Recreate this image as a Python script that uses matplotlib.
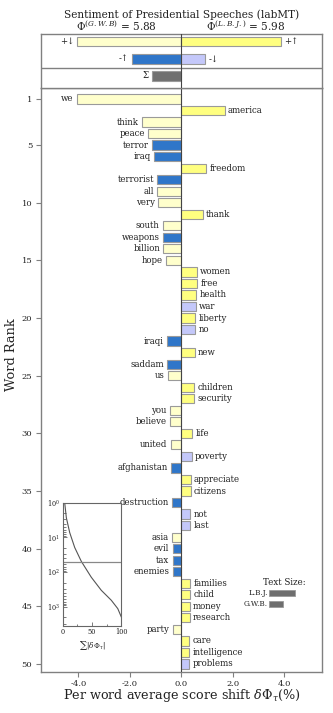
import matplotlib
matplotlib.use('Agg')
import matplotlib.pyplot as plt
from matplotlib.ticker import FixedLocator, NullFormatter

plt.rcParams['font.family'] = ['DejaVu Serif', 'DejaVu Sans']
plt.rcParams['mathtext.fontset'] = 'dejavuserif'

# ---------------- data ----------------
words = ['we', 'america', 'think', 'peace', 'terror', 'iraq', 'freedom', 'terrorist',
         'all', 'very', 'thank', 'south', 'weapons', 'billion', 'hope', 'women',
         'free', 'health', 'war', 'liberty', 'no', 'iraqi', 'new', 'saddam', 'us',
         'children', 'security', 'you', 'believe', 'life', 'united', 'poverty',
         'afghanistan', 'appreciate', 'citizens', 'destruction', 'not', 'last',
         'asia', 'evil', 'tax', 'enemies', 'families', 'child', 'money', 'research',
         'party', 'care', 'intelligence', 'problems']
shifts = [-4.05, 1.69, -1.53, -1.28, -1.14, -1.05, 0.97, -0.94, -0.93, -0.90,
          0.84, -0.72, -0.71, -0.70, -0.61, 0.61, 0.61, 0.58, 0.57, 0.54,
          0.54, -0.56, 0.53, -0.54, -0.52, 0.50, 0.49, -0.44, -0.44, 0.43,
          -0.41, 0.40, -0.39, 0.36, 0.36, -0.36, 0.35, 0.35, -0.35, -0.34,
          -0.34, -0.34, 0.34, 0.34, 0.33, 0.33, -0.32, 0.31, 0.31, 0.31]
# pu: positive word used more (+up), pd: positive word used less (+down)
# nu: negative word used more (-up), nd: negative word used less (-down)
kinds = ['pd', 'pu', 'pd', 'pd', 'nu', 'nu', 'pu', 'nu', 'pd', 'pd',
         'pu', 'pd', 'nu', 'pd', 'pd', 'pu', 'pu', 'pu', 'nd', 'pu',
         'nd', 'nu', 'pu', 'nu', 'pd', 'pu', 'pu', 'pd', 'pd', 'pu',
         'pd', 'nd', 'nu', 'pu', 'pu', 'nu', 'nd', 'nd', 'pd', 'nu',
         'nu', 'nu', 'pu', 'pu', 'pu', 'pu', 'pd', 'pu', 'pu', 'nd']

summary_labels = ['+\u2193', '+\u2191', '-\u2191', '-\u2193', '\u03a3']
summary_values = [-4.04, 3.88, -1.90, 0.93, -1.13]
summary_rows = [1, 1, 2, 2, 3]
summary_kinds = ['pd', 'pu', 'nu', 'nd', 'sum']

inset_rank = [1, 2.7, 7.3, 19.5, 49, 140, 333, 645, 1120, 1940]
inset_cum = [3.4, 6.2, 12.0, 20.5, 31.8, 48.8, 65.9, 83.0, 94.0, 100.0]

text_size_labels = ['L.B.J.', 'G.W.B.']
text_size_values = [1.02, 0.52]

title = 'Sentiment of Presidential Speeches (labMT)'
ref_label = r'$\Phi^{(G.W.B)}$ = 5.88'
comp_label = r'$\Phi^{(L.B.J.)}$ = 5.98'

# ---------------- style ----------------
colors = {'pu': '#ffff80', 'pd': '#ffffcc', 'nu': '#2f76c9', 'nd': '#c4c8fa',
          'sum': '#707070'}
edge = '#9a9a9a'
spine_c = '#808080'
txt_c = '#222222'

W, H = 333, 713
fig = plt.figure(figsize=(W / 100, H / 100), dpi=100)


def px(l, t, r, b):
    return [l / W, 1 - b / H, (r - l) / W, (b - t) / H]


ax = fig.add_axes(px(40.7, 88, 322, 671.7))
axt = fig.add_axes(px(40.7, 34, 322, 88))
axi = fig.add_axes(px(62.7, 502.7, 121.3, 625.7))

XL = (-5.46, 5.46)
wsize = 6.2

# ---- main word shift ----
ranks = list(range(1, len(words) + 1))
ax.barh(ranks, shifts, height=0.8, color=[colors[k] for k in kinds],
        edgecolor=edge, linewidth=0.8, zorder=2)
for r, w, v in zip(ranks, words, shifts):
    if v < 0:
        ax.annotate(w, xy=(v, r), xytext=(-2.3, 0), textcoords='offset points',
                    ha='right', va='center', fontsize=wsize, color=txt_c)
    else:
        ax.annotate(w, xy=(v, r), xytext=(2.3, 0), textcoords='offset points',
                    ha='left', va='center', fontsize=wsize, color=txt_c)
ax.axvline(0, color='#444444', lw=0.8, zorder=3)
ax.set_xlim(*XL)
ax.set_ylim(50.67, 0.05)
ax.set_yticks([1, 5, 10, 15, 20, 25, 30, 35, 40, 45, 50])
ax.set_yticklabels(['1', '5', '10', '15', '20', '25', '30', '35', '40', '45', '50'])
ax.set_xticks([-4, -2, 0, 2, 4])
ax.set_xticklabels(['-4.0', '-2.0', '0.0', '2.0', '4.0'])
ax.tick_params(axis='both', labelsize=6.0, colors=txt_c, length=3.5, width=0.8,
               pad=2.5, color=spine_c)
for s in ax.spines.values():
    s.set_color(spine_c)
    s.set_linewidth(1.0)

# text size legend
ax.text(4.84, 42.95, 'Text Size:', ha='right', va='center', fontsize=wsize,
        color=txt_c)
for i, (lab, val) in enumerate(zip(text_size_labels, text_size_values)):
    yy = 43.87 + 0.95 * i
    ax.barh(yy, val, left=3.41, height=0.5, color='#6e6e6e', edgecolor=edge,
            linewidth=0.6)
    ax.text(3.36, yy, lab, ha='right', va='center', fontsize=5.2, color=txt_c)

# ---- summary panel ----
axt.barh(summary_rows, summary_values, height=0.55,
         color=[colors[k] for k in summary_kinds], edgecolor=edge, linewidth=0.8,
         zorder=2)
for lab, v, r in zip(summary_labels, summary_values, summary_rows):
    if v < 0:
        axt.annotate(lab, xy=(v, r), xytext=(-2.3, 0), textcoords='offset points',
                     ha='right', va='center', fontsize=wsize, color=txt_c)
    else:
        axt.annotate(lab, xy=(v, r), xytext=(2.3, 0), textcoords='offset points',
                     ha='left', va='center', fontsize=wsize, color=txt_c)
axt.axvline(0, color='#444444', lw=0.8, zorder=3)
axt.axhline(2.52, color=spine_c, lw=1.0)
axt.set_xlim(*XL)
axt.set_ylim(3.70, 0.55)
axt.set_xticks([])
axt.set_yticks([])
for s in axt.spines.values():
    s.set_color(spine_c)
    s.set_linewidth(1.0)

# ---- inset cumulative ----
axi.plot(inset_cum, inset_rank, color='#555555', lw=0.8)
axi.axhline(len(words), color='#888888', lw=0.9)
axi.set_yscale('log')
axi.set_ylim(3470, 1)
axi.set_xlim(0, 100)
axi.set_xticks([0, 50, 100])
axi.set_xticklabels(['0', '50', '100'])
axi.xaxis.set_minor_locator(FixedLocator([25, 75]))
axi.set_yticks([1, 10, 100, 1000])
axi.set_yticklabels([r'$10^0$', r'$10^1$', r'$10^2$', r'$10^3$'])
axi.yaxis.set_minor_formatter(NullFormatter())
axi.tick_params(which='both', direction='in', labelsize=4.8, colors=txt_c,
                color='#666666', width=0.6, pad=2)
axi.tick_params(which='major', length=3)
axi.tick_params(which='minor', length=1.8)
axi.set_xlabel(r'$\sum|\delta\Phi_\tau|$', fontsize=5.2, color=txt_c, labelpad=2)
axi.patch.set_alpha(0)
for s in axi.spines.values():
    s.set_color('#666666')
    s.set_linewidth(0.8)

# ---- texts ----
fig.text(181.3 / W, 1 - 15 / H, title, ha='center', va='center', fontsize=7.6,
         color=txt_c)
fig.text(116.5 / W, 1 - 26 / H, ref_label, ha='center', va='center',
         fontsize=7.6, color=txt_c)
fig.text(245.5 / W, 1 - 26 / H, comp_label, ha='center', va='center',
         fontsize=7.6, color=txt_c)
fig.text(12 / W, 1 - 355 / H, 'Word Rank', ha='center', va='center',
         rotation=90, fontsize=9.4, color=txt_c)
fig.text(181.3 / W, 1 - 695 / H, r'Per word average score shift $\delta\Phi_\tau$(%)',
         ha='center', va='center', fontsize=9.2, color=txt_c)

fig.savefig('out.png', dpi=100)
